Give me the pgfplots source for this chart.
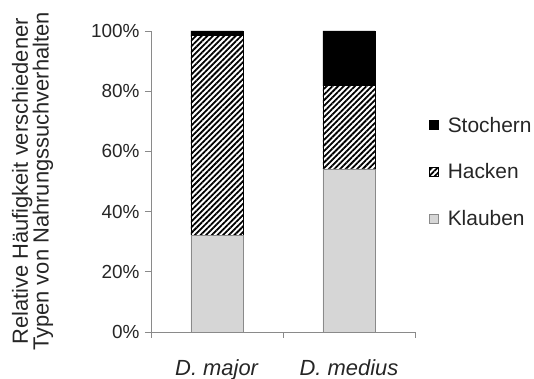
\documentclass[border=0pt]{standalone}
\usepackage{pgfplots}
\pgfplotsset{compat=1.18}
\usepackage{fontspec}
\setmainfont{Liberation Sans}
\usetikzlibrary{patterns.meta}
\definecolor{klgray}{HTML}{D6D6D6}
\definecolor{axgray}{HTML}{8A8A8A}
\begin{document}
\begin{tikzpicture}[x=1bp,y=1bp]
\begin{axis}[
  name=ax,
  scale only axis,
  width=264bp, height=301bp,
  ybar stacked,
  bar width=52bp,
  xmin=-0.5, xmax=1.5,
  ymin=0, ymax=100,
  axis lines*=left,
  axis line style={axgray, line width=0.8pt},
  xtick={0,1},
  xticklabels={\textit{D. major},\textit{D. medius}},
  major x tick style={draw=none},
  minor xtick={-0.5,0.5,1.5},
  minor x tick style={axgray, line width=0.8pt},
  minor tick length=6bp,
  ytick={0,20,40,60,80,100},
  yticklabel={\pgfmathprintnumber{\tick}\%},
  y tick style={axgray, line width=0.8pt},
  major tick length=6bp,
  tick align=outside,
  /pgf/number format/assume math mode=true,
  yticklabel style={font=\fontsize{19}{22}\selectfont, color=black!85, xshift=-2bp},
  xticklabel style={font=\fontsize{22}{26}\selectfont, color=black!85, anchor=base, yshift=-37bp},
  ylabel={Relative Häufigkeit verschiedener\\Typen von Nahrungssuchverhalten},
  ylabel style={font=\fontsize{22}{21}\selectfont, align=center, color=black!85},
  ylabel shift=31bp,
  legend style={draw=none, fill=none, inner sep=0pt, at={(1.053,0.532)}, anchor=west,
    font=\fontsize{21}{23}\selectfont, row sep=30bp, text=black!85,
    /tikz/every even column/.append style={column sep=0bp},
    nodes={inner sep=0pt}},
  legend cell align=left,
  reverse legend,
  legend image code/.code={\draw[#1] (0bp,-4.5bp) rectangle (9bp,4.5bp);},
]
\addplot[fill=klgray, draw=axgray, line width=0.6pt] coordinates {(0,32.2) (1,54.2)};
\addlegendentry{\hspace{9bp}Klauben}
\addplot[fill=white, pattern={Lines[angle=45,distance=4bp,line width=1.8bp]}, draw=black, line width=0.6pt] coordinates {(0,66.4) (1,27.6)};
\addlegendentry{\hspace{9bp}Hacken}
\addplot[fill=black, draw=black, line width=0.6pt] coordinates {(0,1.4) (1,18.2)};
\addlegendentry{\hspace{9bp}Stochern}
\end{axis}
\pgfresetboundingbox
\useasboundingbox ([xshift=-151bp,yshift=-47bp]ax.south west) rectangle ([xshift=119bp,yshift=31bp]ax.north east);
\end{tikzpicture}
\end{document}
